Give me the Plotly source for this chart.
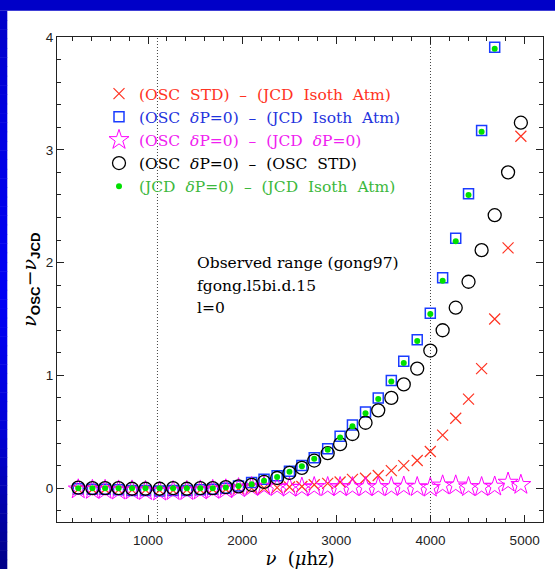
import plotly.graph_objects as go

# ---------------- data ----------------
freq = [259, 409, 544, 687, 830, 973, 1123, 1266, 1412, 1555, 1687, 1826,
        1961, 2100, 2232, 2371, 2502, 2634, 2765, 2908, 3040, 3171, 3310,
        3445, 3584, 3716, 3859, 3998, 4129, 4268, 4404, 4543, 4682, 4824, 4960]

osc_std_minus_jcd_isoth = [-0.01, -0.01, -0.01, -0.015, -0.015, -0.015, -0.02, -0.02,
                           -0.015, -0.015, -0.01, -0.01, -0.005, 0.0, 0.0, 0.005,
                           0.01, 0.015, 0.03, 0.042, 0.055, 0.078, 0.088, 0.112,
                           0.155, 0.20, 0.245, 0.325, 0.47, 0.62, 0.79, 1.06,
                           1.50, 2.13, 3.12]

freq_dp = freq[:33]
osc_dp0_minus_jcd_isoth = [-0.005, -0.01, -0.01, -0.015, -0.02, -0.02, -0.025, -0.02,
                           -0.02, -0.015, -0.01, 0.0, 0.02, 0.05, 0.08, 0.11,
                           0.15, 0.20, 0.27, 0.35, 0.46, 0.56, 0.675, 0.80,
                           0.955, 1.125, 1.315, 1.55, 1.865, 2.215, 2.61, 3.17, 3.91]

osc_dp0_minus_jcd_dp0 = [-0.01, -0.015, -0.015, -0.02, -0.02, -0.025, -0.03, -0.025,
                         -0.025, -0.02, -0.015, -0.01, 0.0, 0.01, 0.015, 0.01,
                         0.005, 0.005, 0.01, 0.01, 0.01, 0.01, 0.01, 0.01,
                         0.01, 0.015, 0.01, 0.005, 0.025, 0.025, 0.01, 0.01,
                         0.015, 0.05, 0.03]

osc_dp0_minus_osc_std = [0.005, 0.0, 0.0, 0.0, -0.005, -0.005, -0.005, 0.0,
                         -0.005, 0.0, 0.0, 0.01, 0.015, 0.03, 0.055, 0.09,
                         0.135, 0.18, 0.245, 0.31, 0.39, 0.48, 0.58, 0.69,
                         0.80, 0.92, 1.06, 1.22, 1.40, 1.60, 1.83, 2.11,
                         2.42, 2.80, 3.24]

jcd_dp0_minus_jcd_isoth = [0.0, 0.0, 0.0, 0.0, 0.0, 0.0, 0.0, 0.0,
                           0.0, 0.0, 0.0, 0.005, 0.02, 0.035, 0.065, 0.10,
                           0.145, 0.195, 0.26, 0.34, 0.45, 0.55, 0.665, 0.79,
                           0.945, 1.11, 1.305, 1.545, 1.84, 2.19, 2.60, 3.16, 3.895]

observed_range = [1100, 4000]
x_range = [33, 5195]
y_range = [-0.3, 4.0]
x_ticks = [1000, 2000, 3000, 4000, 5000]
y_ticks = [0, 1, 2, 3, 4]

SP = "\u00a0\u00a0"
names = [
    f"(OSC{SP}STD){SP}\u2013{SP}(JCD{SP}Isoth{SP}Atm)",
    f"(OSC{SP}<i>\u03b4</i>P=0){SP}\u2013{SP}(JCD{SP}Isoth{SP}Atm)",
    f"(OSC{SP}<i>\u03b4</i>P=0){SP}\u2013{SP}(JCD{SP}<i>\u03b4</i>P=0)",
    f"(OSC{SP}<i>\u03b4</i>P=0){SP}\u2013{SP}(OSC{SP}STD)",
    f"(JCD{SP}<i>\u03b4</i>P=0){SP}\u2013{SP}(JCD{SP}Isoth{SP}Atm)",
]
note_lines = ["Observed range (gong97)", "fgong.l5bi.d.15", "l=0"]

# ---------------- figure ----------------
W, H = 555, 569
ML, MR, MT, MB = 57, 12, 37, 47
PW, PH = W - ML - MR, H - MT - MB

def px(xp):
    return (xp - ML) / PW

def py(yp):
    return (H - MB - yp) / PH

text_colors = ["#ff3322", "#1f33dd", "#f020f0", "#000000", "#3cb83c"]

fig = go.Figure()
fig.add_trace(go.Scatter(
    x=freq, y=osc_std_minus_jcd_isoth, mode="markers",
    name=f"<span style='color:{text_colors[0]}'>{names[0]}</span>",
    marker=dict(symbol="x-thin", size=11, color="#ff3322",
                line=dict(color="#ff3322", width=1.2))))
fig.add_trace(go.Scatter(
    x=freq_dp, y=osc_dp0_minus_jcd_isoth, mode="markers",
    name=f"<span style='color:{text_colors[1]}'>{names[1]}</span>",
    marker=dict(symbol="square-open", size=10, color="#1a3cff",
                line=dict(color="#1a3cff", width=1.5))))
fig.add_trace(go.Scatter(
    x=freq, y=osc_dp0_minus_jcd_dp0, mode="markers",
    name=f"<span style='color:{text_colors[2]}'>{names[2]}</span>",
    marker=dict(symbol="star-open", size=15, color="#ff00ff",
                line=dict(color="#ff00ff", width=1))))
fig.add_trace(go.Scatter(
    x=freq, y=osc_dp0_minus_osc_std, mode="markers",
    name=f"<span style='color:{text_colors[3]}'>{names[3]}</span>",
    marker=dict(symbol="circle-open", size=13, color="#000000",
                line=dict(color="#000000", width=1.3))))
fig.add_trace(go.Scatter(
    x=freq_dp, y=jcd_dp0_minus_jcd_isoth, mode="markers",
    name=f"<span style='color:{text_colors[4]}'>{names[4]}</span>",
    marker=dict(symbol="circle", size=6, color="#00e000",
                line=dict(width=0))))

shapes = []
# blue frame bands
shapes.append(dict(type="rect", xref="paper", yref="paper",
                   x0=px(0), x1=px(W), y0=py(10.7), y1=py(0),
                   fillcolor="#0000c8", line=dict(width=0)))
stops = [(10.7, (0, 0, 200)), (120, (0, 0, 225)), (300, (0, 0, 245)),
         (430, (0, 0, 215)), (569, (0, 0, 135))]
n = 60
for i in range(n):
    y0p = 10.7 + (H - 10.7) * i / n
    y1p = 10.7 + (H - 10.7) * (i + 1) / n
    ym = 0.5 * (y0p + y1p)
    for j in range(len(stops) - 1):
        if stops[j][0] <= ym <= stops[j + 1][0]:
            t = (ym - stops[j][0]) / (stops[j + 1][0] - stops[j][0])
            c = [round(stops[j][1][k] + t * (stops[j + 1][1][k] - stops[j][1][k])) for k in range(3)]
            break
    shapes.append(dict(type="rect", xref="paper", yref="paper",
                       x0=px(0), x1=px(7.3), y0=py(y1p + 0.5), y1=py(y0p),
                       fillcolor=f"rgb({c[0]},{c[1]},{c[2]})", line=dict(width=0)))
for xv in observed_range:
    shapes.append(dict(type="line", xref="x", yref="paper", x0=xv, x1=xv, y0=0, y1=1,
                       line=dict(color="#444444", width=1, dash="1px,2px"), layer="below"))

annotations = [dict(xref="paper", yref="paper", x=px(195), y=py(263 + i * 22.7),
                    xanchor="left", yanchor="middle", showarrow=False,
                    text=line, font=dict(family="DejaVu Serif", size=15.5, color="black"))
               for i, line in enumerate(note_lines)]

axis_common = dict(showline=True, linecolor="#222222", linewidth=1.2, mirror="ticks",
                   ticks="inside", tickcolor="#222222", showgrid=False, zeroline=False,
                   automargin=False,
                   tickfont=dict(family="Liberation Sans", size=13.5, color="#222222"))

fig.update_layout(
    width=W, height=H, margin=dict(l=ML, r=MR, t=MT, b=MB, pad=0, autoexpand=False),
    paper_bgcolor="white", plot_bgcolor="white",
    shapes=shapes, annotations=annotations,
    showlegend=True,
    legend=dict(x=px(99), y=py(77), xanchor="left", yanchor="top",
                bgcolor="rgba(0,0,0,0)", borderwidth=0,
                font=dict(family="DejaVu Serif", size=15.5),
                itemsizing="trace"),
    xaxis=dict(range=x_range, tickvals=x_ticks, ticklen=7, tickwidth=1.2,
               ticklabelstandoff=6,
               minor=dict(ticks="inside", dtick=200, tick0=0, ticklen=4, tickcolor="#222222"),
               title=dict(text="<i>\u03bd</i>\u00a0\u00a0(<i>\u03bc</i>hz)",
                          font=dict(family="DejaVu Serif", size=18, color="black"), standoff=3),
               **axis_common),
    yaxis=dict(range=y_range, tickvals=y_ticks, ticklen=7, tickwidth=1.2,
               minor=dict(ticks="inside", dtick=0.2, tick0=0, ticklen=4, tickcolor="#222222"),
               title=dict(text="<i>\u03bd</i><sub><b><span style='font-family:Liberation Sans'>OSC</span></b></sub>\u2212<i>\u03bd</i><sub><b><span style='font-family:Liberation Sans'>JCD</span></b></sub>",
                          font=dict(family="DejaVu Serif", size=19, color="black"), standoff=4),
               **axis_common),
)

fig.write_html("out.html", config={"displayModeBar": False},
               post_script="document.body.style.margin='0px';document.body.style.padding='0px';")
